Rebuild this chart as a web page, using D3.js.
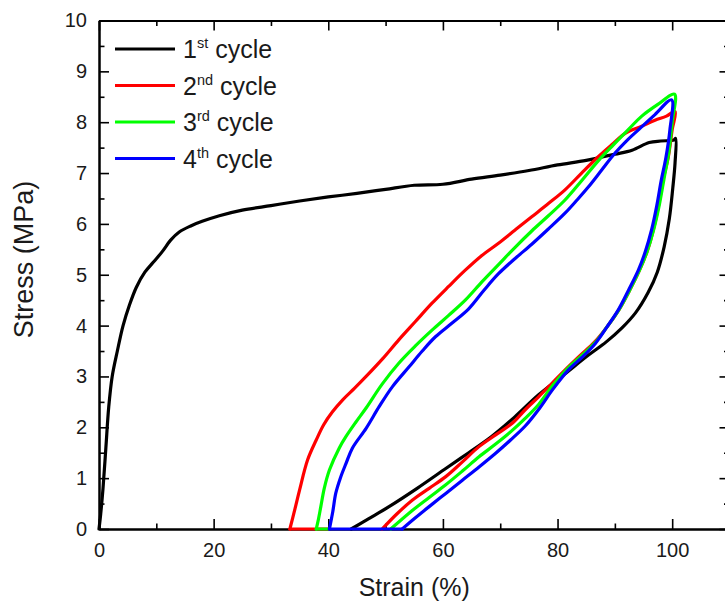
<!DOCTYPE html>
<html>
<head>
<meta charset="utf-8">
<script src="https://cdn.jsdelivr.net/npm/d3@7"></script>
<style>
  body { margin: 0; background: #fff; }
  text { font-family: "Liberation Sans", Arial, sans-serif; }
</style>
</head>
<body>
<div id="chart"></div>
<script>
// [strain %, stress MPa]
const cycle1 = [
  [0,0],[0.3,0.3],[0.7,0.8],[1.2,1.6],[1.7,2.4],[2.3,3.0],[3.2,3.5],[4.2,4.0],[5.3,4.4],
  [6.5,4.75],[8,5.05],[9.5,5.25],[11,5.45],[12.5,5.68],[14,5.84],[16,5.96],[18,6.05],
  [21,6.16],[25,6.27],[30,6.36],[35,6.45],[40,6.53],[45,6.6],[50,6.68],[55,6.76],
  [60,6.78],[65,6.88],[70,6.96],[75,7.05],[80,7.16],[85,7.25],[90,7.37],[93,7.45],
  [96,7.6],[98,7.63],[100.3,7.65],[100.6,7.68],
  [100.5,7.2],[100.1,6.7],[99.5,6.1],[98.6,5.55],[97.4,5.05],[95.8,4.65],[93.6,4.25],
  [91.2,3.95],[88.5,3.68],[85.4,3.42],[81.5,3.07],[76.7,2.64],[72.5,2.2],[68.5,1.82],
  [64.5,1.5],[60.5,1.19],[55.5,0.8],[50.6,0.44],[47,0.2],[44,0]
];
const cycle2 = [
  [40,0],[33.3,0],[34.2,0.4],[35,0.77],[36.4,1.36],[37.9,1.75],[39.2,2.05],[40.7,2.3],
  [42.6,2.55],[44.6,2.77],[46.6,3.0],[49.5,3.35],[52.3,3.72],[55.2,4.08],[58.1,4.44],
  [61,4.77],[63.9,5.09],[66.8,5.38],[69.7,5.62],[72.6,5.88],[75.5,6.14],[78.4,6.4],
  [81.3,6.67],[84.2,7.0],[87.1,7.32],[89.5,7.56],[91.8,7.78],[94.7,7.92],[97,8.04],
  [99,8.12],[100.5,8.21],
  [100,7.85],[99.3,7.3],[98.4,6.86],[97.6,6.35],[96.7,5.88],[95.6,5.45],[94.3,5.09],
  [92.6,4.7],[90.7,4.31],[88.6,3.97],[86.4,3.67],[84,3.42],[81.5,3.15],[78.9,2.85],
  [76.7,2.6],[74.4,2.35],[72.1,2.08],[69.2,1.85],[66.3,1.62],[63.4,1.32],[60.5,1.03],
  [57.6,0.8],[54.7,0.57],[52,0.3],[49.4,0]
];
const cycle3 = [
  [40,0],[37.9,0],[38.3,0.2],[38.7,0.44],[39.3,0.8],[40.2,1.16],[41.9,1.59],[43.1,1.82],
  [44.8,2.1],[46.6,2.38],[49.4,2.85],[52.3,3.26],[55.2,3.6],[58.1,3.91],[61,4.2],
  [63.9,4.5],[66.8,4.86],[69.7,5.2],[72.6,5.54],[75.5,5.86],[78.4,6.16],[81.3,6.47],
  [84.2,6.85],[87.1,7.24],[89.7,7.55],[92.3,7.85],[94.7,8.12],[97.5,8.35],[100.4,8.55],
  [100,8.0],[99.4,7.4],[98.6,6.9],[97.8,6.4],[96.8,5.9],[95.6,5.45],[94.3,5.09],
  [92.6,4.7],[90.7,4.31],[88.6,3.97],[86.5,3.66],[84.1,3.4],[81.6,3.14],[79,2.8],
  [76.7,2.45],[74.4,2.18],[71.9,1.92],[69.2,1.67],[66.3,1.42],[63.4,1.14],[60.5,0.87],
  [57.6,0.62],[54.5,0.35],[50.9,0]
];
const cycle4 = [
  [52.9,0],[40.2,0],[40.8,0.35],[41.3,0.7],[42.1,1.0],[43.1,1.29],[44.2,1.59],[46.6,1.98],
  [48.9,2.41],[51.2,2.8],[54.1,3.19],[56.4,3.5],[58.7,3.78],[61.6,4.05],[64.5,4.33],
  [67.2,4.7],[69.7,5.02],[72.6,5.32],[75.5,5.6],[78.4,5.9],[81.3,6.21],[83.4,6.47],
  [85.4,6.73],[87.7,7.06],[90,7.39],[92,7.63],[94.1,7.85],[97,8.15],[99.9,8.44],
  [99.6,7.85],[98.9,7.3],[98.1,6.86],[97.3,6.35],[96.4,5.88],[95.3,5.45],[94.1,5.09],
  [92.4,4.7],[90.6,4.31],[88.6,3.97],[86.6,3.65],[84.3,3.38],[81.9,3.13],[79.2,2.75],
  [76.9,2.38],[74.4,2.03],[71.8,1.75],[69.2,1.49],[66.3,1.22],[63.4,0.96],[60.5,0.7],
  [57.6,0.44],[55.2,0.22],[52.9,0]
];

const series = [cycle1, cycle2, cycle3, cycle4];
// how many leading points lie flat on zero stress (drawn straight)
const flatLead = [1, 2, 2, 2];
const colors = ['#000000', '#ff0000', '#00ff00', '#0000ff'];
const legendNums = ['1', '2', '3', '4'];
const legendSups = ['st', 'nd', 'rd', 'th'];

const xMajor = [0, 20, 40, 60, 80, 100];
const xMinor = [10, 30, 50, 70, 90];
const yMajor = [0, 1, 2, 3, 4, 5, 6, 7, 8, 9, 10];
const yMinor = [0.5, 1.5, 2.5, 3.5, 4.5, 5.5, 6.5, 7.5, 8.5, 9.5];

const margin = { top: 20.5, right: -4.5, bottom: 77, left: 99 };
const W = 725, H = 606;
const width = W - margin.left - margin.right;
const height = H - margin.top - margin.bottom;

const svg = d3.select('#chart')
  .append('svg')
  .attr('width', W)
  .attr('height', H)
  .append('g')
  .attr('transform', `translate(${margin.left},${margin.top})`);

const xScale = d3.scaleLinear().domain([0, 110]).range([0, width]);
const yScale = d3.scaleLinear().domain([0, 10]).range([height, 0]);

function styleAxis(g) {
  g.select('.domain').attr('stroke', '#000').attr('stroke-width', 2);
  g.selectAll('.tick line').attr('stroke', '#000').attr('stroke-width', 1.6);
  g.selectAll('.tick text').attr('fill', '#1a1a1a').style('font-size', '20px')
    .style('font-family', '"Liberation Sans", Arial, sans-serif');
}

// bottom
svg.append('g').attr('transform', `translate(0,${height})`)
  .call(d3.axisBottom(xScale).tickValues(xMajor).tickSize(-10).tickPadding(14).tickSizeOuter(0))
  .call(styleAxis);
svg.append('g').attr('transform', `translate(0,${height})`)
  .call(d3.axisBottom(xScale).tickValues(xMinor).tickSize(-5.5).tickFormat('').tickSizeOuter(0))
  .call(styleAxis);
// top
svg.append('g')
  .call(d3.axisTop(xScale).tickValues(xMajor).tickSize(-10).tickFormat('').tickSizeOuter(0))
  .call(styleAxis);
svg.append('g')
  .call(d3.axisTop(xScale).tickValues(xMinor).tickSize(-5.5).tickFormat('').tickSizeOuter(0))
  .call(styleAxis);
// left
svg.append('g')
  .call(d3.axisLeft(yScale).tickValues(yMajor).tickSize(-10).tickPadding(12).tickSizeOuter(0))
  .call(styleAxis);
svg.append('g')
  .call(d3.axisLeft(yScale).tickValues(yMinor).tickSize(-5.5).tickFormat('').tickSizeOuter(0))
  .call(styleAxis);
// right
svg.append('g').attr('transform', `translate(${width},0)`)
  .call(d3.axisRight(yScale).tickValues(yMajor).tickSize(-10).tickFormat('').tickSizeOuter(0))
  .call(styleAxis);
svg.append('g').attr('transform', `translate(${width},0)`)
  .call(d3.axisRight(yScale).tickValues(yMinor).tickSize(-5.5).tickFormat('').tickSizeOuter(0))
  .call(styleAxis);

// axis titles
svg.append('text')
  .attr('x', xScale(55))
  .attr('y', height + 67)
  .attr('text-anchor', 'middle')
  .style('font-size', '25px')
  .attr('fill', '#1a1a1a')
  .text('Strain (%)');

svg.append('text')
  .attr('transform', `translate(${33 - margin.left},${yScale(5.3)}) rotate(-90)`)
  .attr('text-anchor', 'middle')
  .style('font-size', '27px')
  .attr('fill', '#1a1a1a')
  .text('Stress (MPa)');

// curves
const straight = d3.line()
  .x(d => xScale(d[0]))
  .y(d => yScale(d[1]));
const smooth = d3.line()
  .x(d => xScale(d[0]))
  .y(d => yScale(d[1]))
  .curve(d3.curveCatmullRom.alpha(0.5));

series.forEach((s, i) => {
  const k = flatLead[i];
  const g = svg.append('g')
    .attr('fill', 'none')
    .attr('stroke', colors[i])
    .attr('stroke-width', 3.2)
    .attr('stroke-linejoin', 'round')
    .attr('stroke-linecap', 'round');
  if (k > 1) g.append('path').datum(s.slice(0, k)).attr('d', straight);
  g.append('path').datum(s.slice(k - 1)).attr('d', smooth);
});

// legend
const legend = svg.append('g').attr('transform', 'translate(16,28.5)');
legendNums.forEach((n, i) => {
  const row = legend.append('g').attr('transform', `translate(0,${i * 36.5})`);
  row.append('line')
    .attr('x1', 0).attr('x2', 60)
    .attr('y1', 0).attr('y2', 0)
    .attr('stroke', colors[i])
    .attr('stroke-width', 3.2);
  const t = row.append('text')
    .attr('x', 68)
    .attr('y', 9)
    .attr('fill', '#1a1a1a')
    .style('font-size', '25px');
  t.append('tspan').text(n);
  t.append('tspan').attr('dy', -10).style('font-size', '14.5px').text(legendSups[i]);
  t.append('tspan').attr('dy', 10).text(' cycle');
});
</script>
</body>
</html>
